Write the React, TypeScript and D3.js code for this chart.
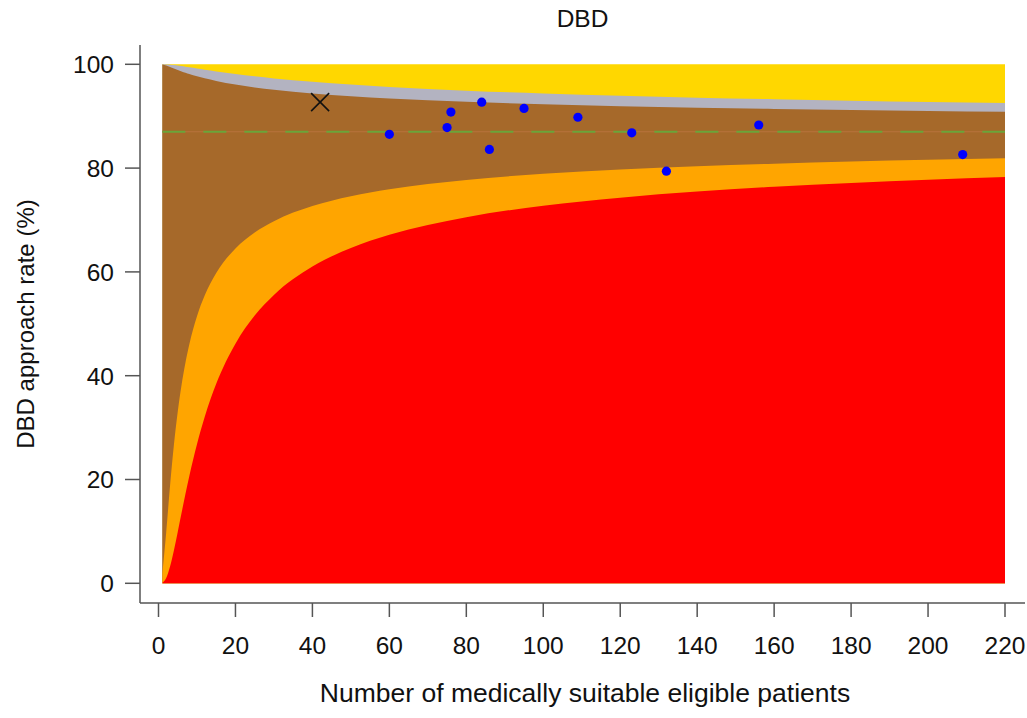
import React from "react";
import * as d3 from "d3";

// Funnel limit curves (% approach rate) read at sample numbers of patients
const limitN = [1, 2, 3, 4, 5, 6, 7, 8, 10, 12, 15, 20, 25, 30, 40, 50, 60, 80, 100, 120, 140, 160, 180, 200, 220];
const upper998 = [100.0, 99.98, 99.93, 99.85, 99.76, 99.65, 99.54, 99.42, 99.19, 98.96, 98.63, 98.12, 97.68, 97.28, 96.62, 96.09, 95.64, 94.92, 94.37, 93.93, 93.57, 93.26, 93.0, 92.76, 92.56];
const upper95 = [99.96, 99.76, 99.49, 99.2, 98.91, 98.63, 98.38, 98.13, 97.69, 97.3, 96.79, 96.1, 95.55, 95.1, 94.39, 93.85, 93.42, 92.78, 92.3, 91.93, 91.63, 91.39, 91.18, 90.99, 90.84];
const lower95 = [1.93, 9.8, 18.79, 26.64, 33.07, 38.27, 42.51, 46.01, 51.45, 55.45, 59.77, 64.52, 67.6, 69.78, 72.7, 74.59, 75.92, 77.72, 78.89, 79.72, 80.35, 80.85, 81.25, 81.59, 81.88];
const lower998 = [0.07, 1.0, 3.22, 6.34, 9.9, 13.59, 17.2, 20.62, 26.8, 32.06, 38.44, 46.16, 51.58, 55.56, 61.02, 64.6, 67.15, 70.55, 72.75, 74.31, 75.48, 76.4, 77.14, 77.75, 78.27];

const targetRate = 87;

// Hospitals
const pointN = [60, 75, 76, 84, 86, 95, 109, 123, 132, 156, 209];
const pointRate = [86.5, 87.8, 90.8, 92.7, 83.6, 91.5, 89.8, 86.8, 79.4, 88.3, 82.6];

// Highlighted hospital (cross marker)
const markN = [42];
const markRate = [92.7];

const xTicks = [0, 20, 40, 60, 80, 100, 120, 140, 160, 180, 200, 220];
const yTicks = [0, 20, 40, 60, 80, 100];

const W = 1027;
const H = 718;
const FONT = "'Liberation Sans', Arial, Helvetica, sans-serif";

export default function App() {
  const x = d3.scaleLinear().domain([0, 220]).range([158.5, 1005]);
  const y = d3.scaleLinear().domain([0, 100]).range([583.3, 64.3]);

  const rows = limitN.map((n, i) => ({
    n,
    u998: upper998[i],
    u95: upper95[i],
    l95: lower95[i],
    l998: lower998[i],
  }));

  const mk = (top: (d: any) => number) =>
    d3
      .area<any>()
      .x((d) => x(d.n))
      .y0(() => y(0))
      .y1((d) => y(top(d)))
      .curve(d3.curveMonotoneX)(rows) || "";

  const layers = [
    { fill: "#FFD700", d: mk(() => 100) },
    { fill: "#B3B3C1", d: mk((d) => d.u998) },
    { fill: "#A6692A", d: mk((d) => d.u95) },
    { fill: "#FFA500", d: mk((d) => d.l95) },
    { fill: "#FF0000", d: mk((d) => d.l998) },
  ];

  const axisColor = "#555";
  const axisLeft = 140;
  const axisBottom = 603;

  return (
    <svg
      width={W}
      height={H}
      style={{ position: "absolute", left: 0, top: 0, background: "#fff" }}
      fontFamily={FONT}
    >
      {layers.map((l, i) => (
        <path key={i} d={l.d} fill={l.fill} stroke="none" />
      ))}

      {/* target line */}
      <line
        x1={x(1)}
        x2={x(220)}
        y1={y(targetRate)}
        y2={y(targetRate)}
        stroke="#B8733C"
        strokeWidth={1}
      />
      <line
        x1={x(1)}
        x2={x(220)}
        y1={y(targetRate)}
        y2={y(targetRate)}
        stroke="#6AA53A"
        strokeWidth={2.2}
        strokeDasharray="23 18"
      />

      {/* points */}
      {pointN.map((n, i) => (
        <circle key={i} cx={x(n)} cy={y(pointRate[i])} r={4.6} fill="#0000FF" />
      ))}

      {/* cross marker */}
      {markN.map((n, i) => {
        const cx = x(n);
        const cy = y(markRate[i]);
        const s = 9;
        return (
          <g key={i} stroke="#111" strokeWidth={1.6}>
            <line x1={cx - s} y1={cy - s} x2={cx + s} y2={cy + s} />
            <line x1={cx - s} y1={cy + s} x2={cx + s} y2={cy - s} />
          </g>
        );
      })}

      {/* axes */}
      <line x1={axisLeft} x2={axisLeft} y1={45} y2={axisBottom} stroke={axisColor} strokeWidth={1.5} />
      <line x1={axisLeft} x2={1025} y1={axisBottom} y2={axisBottom} stroke={axisColor} strokeWidth={1.5} />

      {yTicks.map((t) => (
        <g key={"y" + t}>
          <line x1={125} x2={axisLeft} y1={y(t)} y2={y(t)} stroke={axisColor} strokeWidth={1.5} />
          <text
            x={114}
            y={y(t)}
            dy="0.36em"
            textAnchor="end"
            fontSize={24.5}
            fill="#111"
          >
            {t}
          </text>
        </g>
      ))}

      {xTicks.map((t) => (
        <g key={"x" + t}>
          <line x1={x(t)} x2={x(t)} y1={axisBottom} y2={617} stroke={axisColor} strokeWidth={1.5} />
          <text x={x(t)} y={654.3} textAnchor="middle" fontSize={24.5} fill="#111">
            {t}
          </text>
        </g>
      ))}

      {/* titles */}
      <text x={582.5} y={26.7} textAnchor="middle" fontSize={24.5} fill="#111">
        DBD
      </text>
      <text x={585} y={702} textAnchor="middle" fontSize={26.5} fill="#111">
        Number of medically suitable eligible patients
      </text>
      <text
        transform={`translate(34,${324}) rotate(-90)`}
        textAnchor="middle"
        fontSize={24}
        fill="#111"
      >
        DBD approach rate (%)
      </text>
    </svg>
  );
}
